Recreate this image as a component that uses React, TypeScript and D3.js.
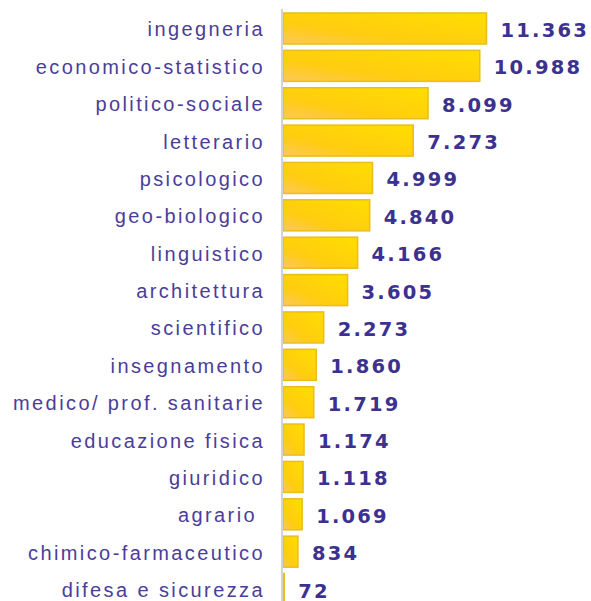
import React from "react";
import * as d3 from "d3";

const categories = [
  "ingegneria",
  "economico-statistico",
  "politico-sociale",
  "letterario",
  "psicologico",
  "geo-biologico",
  "linguistico",
  "architettura",
  "scientifico",
  "insegnamento",
  "medico/ prof. sanitarie",
  "educazione fisica",
  "giuridico",
  "agrario ",
  "chimico-farmaceutico",
  "difesa e sicurezza",
];
const values = [11363, 10988, 8099, 7273, 4999, 4840, 4166, 3605, 2273, 1860, 1719, 1174, 1118, 1069, 834, 72];

const W = 591;
const H = 601;
const x0 = 283;

export default function App() {
  const x = d3.scaleLinear().domain([0, 11363]).range([x0, 486.5]);
  const y = d3
    .scaleBand<string>()
    .domain(categories)
    .range([9.8, 9.8 + 16 * 37.37])
    .paddingInner(0.17)
    .paddingOuter(0.085);
  const fmt = (v: number) => d3.format(",")(v).replace(/,/g, ".");
  return (
    <svg
      width={W}
      height={H}
      style={{ position: "absolute", left: 0, top: 0, background: "#fff" }}
    >
      <defs>
        <linearGradient id="barGrad" x1="0" y1="1" x2="1" y2="0">
          <stop offset="0%" stopColor="#fdc85a" />
          <stop offset="35%" stopColor="#ffcc10" />
          <stop offset="100%" stopColor="#ffde00" />
        </linearGradient>
      </defs>
      {categories.map((c, i) => {
        const yy = y(c)!;
        const bw = y.bandwidth();
        const xe = x(values[i]);
        return (
          <g key={c}>
            <rect
              x={x0}
              y={yy}
              width={Math.max(0, xe - x0)}
              height={bw}
              fill="url(#barGrad)"
              stroke="#e9bd1c"
              strokeWidth={1.5}
            />
            <text
              x={265}
              y={yy + bw / 2 + 1}
              textAnchor="end"
              dominantBaseline="central"
              fontFamily="Liberation Sans, Arial, sans-serif"
              fontSize={20}
              letterSpacing={2.4}
              fill="#4a3d9a"
              style={{ whiteSpace: "pre" }}
            >
              {c}
            </text>
            <text
              x={xe + 14}
              y={yy + bw / 2 + 2}
              dominantBaseline="central"
              fontFamily="DejaVu Sans, Verdana, sans-serif"
              fontWeight="bold"
              fontSize={19.5}
              letterSpacing={2.2}
              fill="#3d318f"
            >
              {fmt(values[i])}
            </text>
          </g>
        );
      })}
      <line x1={282} x2={282} y1={9} y2={H} stroke="#d3d3d3" strokeWidth={2} />
    </svg>
  );
}
